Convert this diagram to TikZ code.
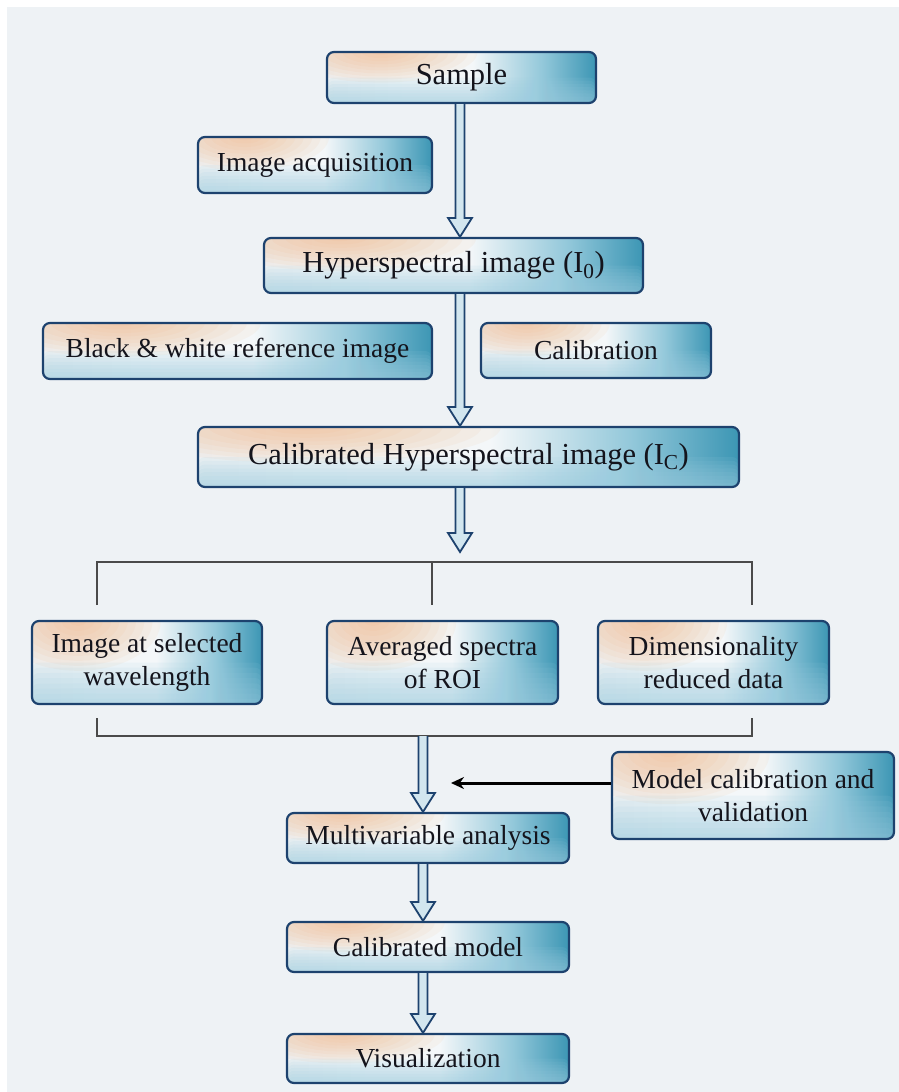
\documentclass[tikz,border=0pt]{standalone}
\usepackage{fontspec}
\setmainfont{Liberation Serif}
\usetikzlibrary{calc,arrows.meta}
\definecolor{bgc}{HTML}{EEF2F5}
\definecolor{navy}{HTML}{1D426E}
\definecolor{txt}{HTML}{14141C}
\definecolor{peach}{HTML}{F0B585}
\definecolor{bluebot}{HTML}{9CCDE0}
\definecolor{cA}{HTML}{EEF1F3}
\definecolor{cW}{HTML}{F4F7F9}
\definecolor{cM}{HTML}{93C8DA}
\definecolor{cT}{HTML}{3C96B4}
\definecolor{shaftfill}{HTML}{D2E6EF}
\definecolor{brk}{HTML}{4A4A4A}
\pgfdeclarehorizontalshading{boxbase}{100bp}{color(0bp)=(cA); color(25bp)=(cA); color(40bp)=(cW); color(52bp)=(cW); color(65bp)=(cM); color(75bp)=(cT); color(100bp)=(cT)}
\newcommand\dblarrow[2]{%
  \draw[dblarr] let \p1=(#1), \p2=(#2) in
    (\x1-4.5pt,\y1) -- (\x1-4.5pt,\y2+19pt) -- (\x1-12pt,\y2+19pt) -- (\x1,\y2)
    -- (\x1+12pt,\y2+19pt) -- (\x1+4.5pt,\y2+19pt) -- (\x1+4.5pt,\y1);}
\begin{document}
\begin{tikzpicture}[x=1pt,y=-1pt,
  glow/.style={path picture={
    \foreach \i in {1,...,10}{%
      \fill[peach, opacity=0.09] let \p1=(path picture bounding box.south west), \p2=(path picture bounding box.north east) in
        (\x1+0.2*\x2-0.2*\x1, \y2) ellipse ({(0.36*\x2-0.36*\x1)*\i/10} and {(0.6*\y2-0.6*\y1)*\i/10});}
    \foreach \i in {1,...,8}{%
      \fill[bluebot, opacity=0.11] let \p1=(path picture bounding box.south west), \p2=(path picture bounding box.north east) in
        (\x1,\y1) rectangle (\x2, {\y1+(0.5*\y2-0.5*\y1)*\i/8});}
  }},
  box/.style={draw=navy, line width=2.2pt, rounded corners=7pt, shade, shading=boxbase, glow,
    text=txt, align=center, inner sep=0pt, font=\fontsize{27.5}{33}\selectfont},
  big/.style={font=\fontsize{30.5}{36}\selectfont},
  dblarr/.style={draw=navy, line width=1.8pt, fill=shaftfill, line join=miter},
  bracket/.style={draw=brk, line width=1.5pt},
  feed/.style={draw=black, line width=3pt, -{Stealth[length=13pt,width=12pt]}}
]
\useasboundingbox (0,0) rectangle (899,1092);
\fill[bgc] (7,7) rectangle (899,1092);

\node[box, big, minimum width=269pt, minimum height=51pt] (sample) at (461.5,77.5) {Sample};
\node[box, minimum width=234pt, minimum height=56pt] (acq) at (315,165) {Image acquisition};
\node[box, big, minimum width=379pt, minimum height=55pt] (hyper) at (453.5,265.5) {Hyperspectral image (I\textsubscript{0})};
\node[box, minimum width=389pt, minimum height=56pt] (bw) at (237.5,351) {Black \& white reference image};
\node[box, minimum width=230pt, minimum height=55pt] (calib) at (596,350.5) {Calibration};
\node[box, big, minimum width=541pt, minimum height=60pt] (calhyp) at (468.5,457) {Calibrated Hyperspectral image (I\textsubscript{C})};
\node[box, minimum width=230pt, minimum height=83pt] (isw) at (147,662.5) {Image at selected\\wavelength};
\node[box, minimum width=231pt, minimum height=83pt] (avg) at (442.5,662.5) {Averaged spectra\\of ROI};
\node[box, minimum width=231pt, minimum height=83pt] (dim) at (713.5,662.5) {Dimensionality\\reduced data};
\node[box, minimum width=282pt, minimum height=50pt] (multi) at (428,838) {Multivariable analysis};
\node[box, minimum width=282pt, minimum height=87pt] (model) at (753,795.5) {Model calibration and\\validation};
\node[box, minimum width=282pt, minimum height=50pt] (calmod) at (428,947) {Calibrated model};
\node[box, minimum width=282pt, minimum height=49pt] (vis) at (428,1058.5) {Visualization};

\coordinate (xa) at (460,0);
\coordinate (xb) at (423,0);
\coordinate (brtop) at (460,552);
\coordinate (brbot) at (423,736);
\coordinate (mcend) at (451,783);

\draw[bracket] (97,605) -- (97,562) -- (752,562) -- (752,605);
\draw[bracket] (432,562) -- (432,605);
\draw[bracket] (97,718) -- (97,736) -- (752,736) -- (752,718);

\dblarrow{xa |- sample.south}{xa |- hyper.north}
\dblarrow{xa |- hyper.south}{xa |- calhyp.north}
\dblarrow{xa |- calhyp.south}{brtop}
\dblarrow{brbot}{xb |- multi.north}
\dblarrow{xb |- multi.south}{xb |- calmod.north}
\dblarrow{xb |- calmod.south}{xb |- vis.north}

\draw[feed] (model.west |- mcend) -- (mcend);
\end{tikzpicture}
\end{document}
